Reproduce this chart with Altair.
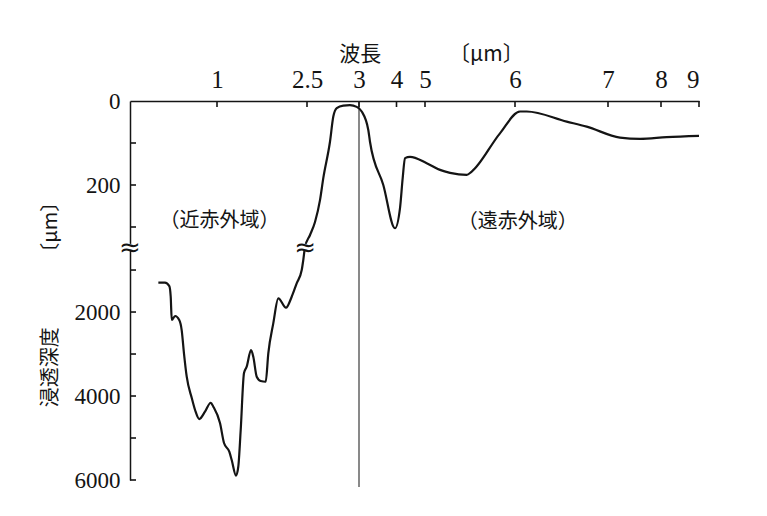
import altair as alt
import pandas as pd

# ---- data ----
wavelength = [0.663, 0.701, 0.726, 0.734, 0.740, 0.759, 0.783, 0.797, 0.810, 0.826,
              0.855, 0.874, 0.898, 0.931, 0.964, 0.979, 1.05, 1.117, 1.205, 1.245,
              1.317, 1.355, 1.395, 1.45, 1.495, 1.567, 1.605, 1.662, 1.728, 1.812,
              1.855, 1.938, 2.022, 2.15, 2.245, 2.328, 2.412, 2.438, 2.467, 2.529,
              2.577, 2.625, 2.657, 2.721, 2.753, 2.786, 2.849, 2.913, 2.978, 3.072,
              3.248, 3.293, 3.648, 3.96, 4.123, 4.218, 4.298, 4.474, 5.019, 5.167,
              5.278, 5.463, 5.519, 5.833, 6.054, 6.126, 6.556, 6.771, 7.226, 7.604,
              8.15, 9.0]
depth = [1302, 1302, 1381, 1636, 2190, 2095, 2190, 2429, 2976, 3540,
         4048, 4333, 4548, 4374, 4160, 4255, 4643, 5119, 5326, 5524,
         5898, 5683, 4810, 3452, 3302, 2905, 3064, 3540, 3643, 3660,
         2983, 2269, 1674, 1898, 1636, 1317, 1000, 762, 412, 319,
         288, 236, 183, 97, 37, 17, 11, 10, 14, 25,
         69, 97, 200, 303, 255, 183, 136, 133, 148, 164,
         171, 176, 168, 77, 25, 25, 49, 61, 87, 90,
         86, 83]

x_tick_values = [1, 2.5, 3, 4, 5, 6, 7, 8, 9]
y_label_values = [0, 200, 2000, 4000, 6000]
y_tick_values = [100, 200, 300, 1000, 2000, 3000, 4000, 5000, 6000]

region_text = ["（近赤外域）", "（遠赤外域）"]
region_wl = [1.04, 6.03]
region_depth = [286, 288]

break_wl = [0.5, 2.467]
break_depth = [412, 412]

divider_wl = [3]

x_title = "波長　　　 〔μm〕"
y_title = "浸透深度　　　 〔μm〕"

# ---- scales (broken / irregular axes as piecewise-linear scales) ----
X_DOMAIN = [0.5, 1, 2.5, 3, 4, 5, 6, 7, 8, 9]
X_RANGE = [0, 87, 177, 229, 266.5, 295, 385, 478, 531, 569]
Y_DOMAIN = [0, 345, 480, 6000]
Y_RANGE = [0, 144.9, 147.2, 379]
W, H = 569, 379

xs = alt.Scale(type="linear", domain=X_DOMAIN, range=X_RANGE, clamp=False)
ys = alt.Scale(type="linear", domain=Y_DOMAIN, range=Y_RANGE, clamp=False)

INK = "#141414"
SERIF = "'Liberation Serif', 'Times New Roman', serif"
JP = "Noto Sans CJK JP"

curve_df = pd.DataFrame({"lam": wavelength, "v": depth})
xt_df = pd.DataFrame({"lam": x_tick_values})
yt_df = pd.DataFrame({"v": y_tick_values})
reg_df = pd.DataFrame({"lam": region_wl, "v": region_depth, "t": region_text})
brk_df = pd.DataFrame({"lam": break_wl, "v": break_depth})
div_df = pd.DataFrame({"lam": divider_wl})

x_axis = alt.Axis(orient="top", values=x_tick_values, format="~g", ticks=False, tickSize=0,
                  grid=False, domainColor=INK, domainWidth=1.5,
                  labelFont=SERIF, labelFontSize=25, labelColor=INK, labelPadding=9,
                  title=x_title, titleFont=JP, titleFontSize=21, titleFontWeight="normal",
                  titleColor=INK, titleX=301, titleY=-47, titleAlign="center",
                  titleBaseline="middle", titleAngle=0)
y_axis = alt.Axis(orient="left", values=y_label_values, format="d", ticks=False, tickSize=0,
                  grid=False, domainColor=INK, domainWidth=1.5,
                  labelFont=SERIF, labelFontSize=23, labelColor=INK, labelPadding=10,
                  labelBaseline="middle",
                  title=y_title, titleFont=JP, titleFontSize=20, titleFontWeight="normal",
                  titleColor=INK, titleX=-80, titleY=198, titleAlign="center",
                  titleBaseline="middle", titleAngle=270)

curve = alt.Chart(curve_df).mark_line(color=INK, strokeWidth=2.2, interpolate="monotone").encode(
    x=alt.X("lam:Q", scale=xs, axis=x_axis),
    y=alt.Y("v:Q", scale=ys, axis=y_axis),
    order=alt.Order("lam:Q"),
)

divider = alt.Chart(div_df).mark_rule(color="#4a4a4a", strokeWidth=1.3).encode(
    x=alt.X("lam:Q", scale=xs),
    y=alt.value(0),
    y2=alt.value(H + 7),
)

x_ticks = alt.Chart(xt_df).mark_rule(color=INK, strokeWidth=1.6).encode(
    x=alt.X("lam:Q", scale=xs), y=alt.value(0), y2=alt.value(6))
y_ticks = alt.Chart(yt_df).mark_rule(color=INK, strokeWidth=1.6).encode(
    y=alt.Y("v:Q", scale=ys), x=alt.value(0), x2=alt.value(6))

brk_gap = alt.Chart(brk_df).mark_point(shape="square", filled=True, color="white",
                                       opacity=1, size=40).encode(
    x=alt.X("lam:Q", scale=xs), y=alt.Y("v:Q", scale=ys))
brk_sym = alt.Chart(brk_df).mark_text(text="≈", font="DejaVu Sans", fontSize=26,
                                      color=INK, baseline="middle", align="center", dy=1).encode(
    x=alt.X("lam:Q", scale=xs), y=alt.Y("v:Q", scale=ys))

regions = alt.Chart(reg_df).mark_text(font=JP, fontSize=20, color=INK,
                                      baseline="middle", align="center").encode(
    x=alt.X("lam:Q", scale=xs), y=alt.Y("v:Q", scale=ys), text="t:N")

chart = alt.layer(divider, curve, x_ticks, y_ticks, brk_gap, brk_sym, regions).properties(
    width=W, height=H,
    autosize=alt.AutoSizeParams(type="none"),
    padding={"left": 122, "top": 93, "right": 60, "bottom": 30},
    background="white",
).configure_view(stroke=None)

chart.save("out.html", embed_options={"renderer": "svg", "actions": False})
